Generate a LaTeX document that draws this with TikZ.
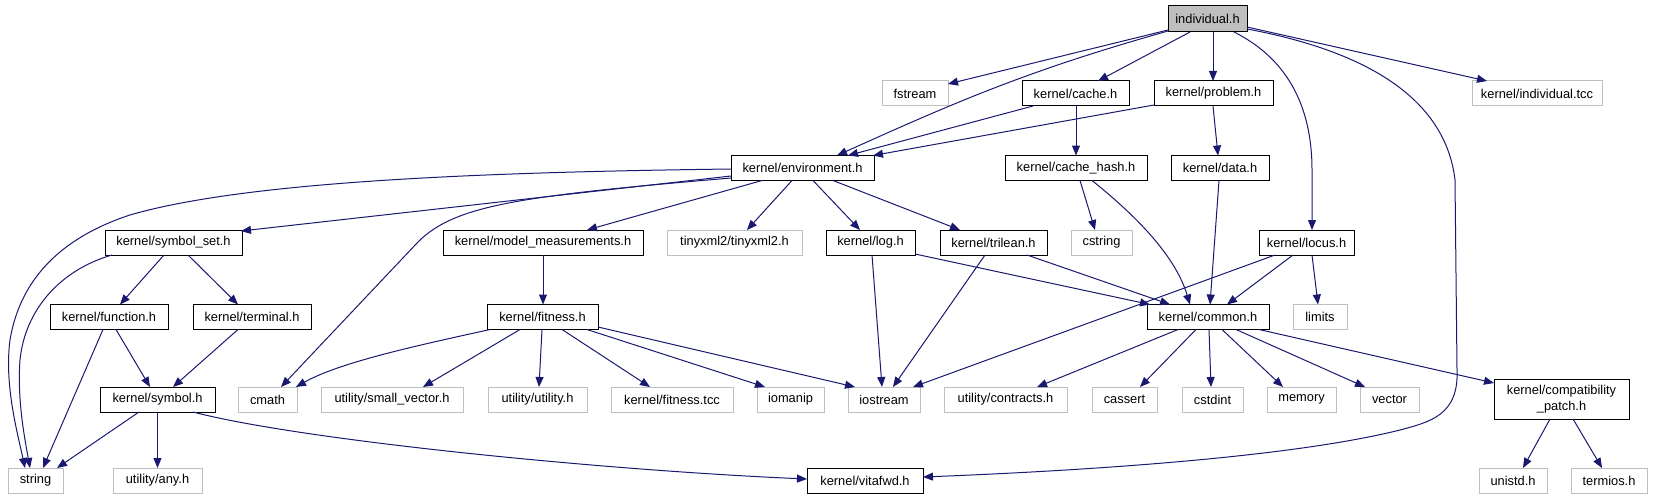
\documentclass[tikz,border=0pt]{standalone}
\usepackage{fontspec}
\setmainfont{Liberation Sans}
\usetikzlibrary{arrows.meta,calc}
\definecolor{mblue}{HTML}{191970}
\definecolor{gborder}{HTML}{BFBFBF}
\begin{document}
\begin{tikzpicture}[x=1pt,y=-1pt,
  box/.style={draw=black, fill=white, line width=1pt, inner sep=0pt, minimum height=25pt, font=\fontsize{12.85}{16}\selectfont},
  gbox/.style={box, draw=gborder},
  rootbox/.style={box, fill=gborder, minimum height=26pt},
  e/.style={draw=mblue, line width=1pt, -{Triangle[length=10pt,width=8pt]}}]
\useasboundingbox (0,0) rectangle (1653,500);
% row 1
\node[rootbox, minimum width=79pt] (ind) at (1207.5,19) {individual.h};
% row 2
\node[gbox, minimum width=66pt] (fstream) at (915,93.5) {fstream};
\node[box, minimum width=107pt] (cache) at (1075.5,93.5) {kernel/cache.h};
\node[box, minimum width=119pt] (problem) at (1213.5,93.5) {kernel/problem.h};
\node[gbox, minimum width=130pt] (itcc) at (1537,93.5) {kernel/individual.tcc};
% row 3
\node[box, minimum width=143pt] (env) at (802.5,168) {kernel/environment.h};
\node[box, minimum width=142pt] (chash) at (1076,168) {kernel/cache\_hash.h};
\node[box, minimum width=98pt] (data) at (1220,168) {kernel/data.h};
% row 4
\node[box, minimum width=137pt] (symset) at (173.5,242.5) {kernel/symbol\_set.h};
\node[box, minimum width=200pt] (mm) at (543,242.5) {kernel/model\_measurements.h};
\node[gbox, minimum width=135pt] (tiny) at (734.5,242.5) {tinyxml2/tinyxml2.h};
\node[box, minimum width=89pt] (log) at (870.5,242.5) {kernel/log.h};
\node[box, minimum width=107pt] (tri) at (993.5,242.5) {kernel/trilean.h};
\node[gbox, minimum width=61pt] (cstring) at (1101.5,242.5) {cstring};
\node[box, minimum width=95pt] (locus) at (1306.5,242.5) {kernel/locus.h};
% row 5
\node[box, minimum width=118pt] (func) at (109,317) {kernel/function.h};
\node[box, minimum width=118pt] (term) at (252,317) {kernel/terminal.h};
\node[box, minimum width=111pt] (fit) at (542.5,317) {kernel/fitness.h};
\node[box, minimum width=122pt] (common) at (1208,317) {kernel/common.h};
\node[gbox, minimum width=54pt] (limits) at (1320,317) {limits};
% row 6
\node[box, minimum width=115pt] (symbol) at (157.5,399.5) {kernel/symbol.h};
\node[gbox, minimum width=59pt] (cmath) at (267.5,399.5) {cmath};
\node[gbox, minimum width=142pt] (smallvec) at (392,399.5) {utility/small\_vector.h};
\node[gbox, minimum width=99pt] (utilh) at (537.5,399.5) {utility/utility.h};
\node[gbox, minimum width=122pt] (ftcc) at (672,399.5) {kernel/fitness.tcc};
\node[gbox, minimum width=67pt] (iomanip) at (790.5,399.5) {iomanip};
\node[gbox, minimum width=72pt] (iostream) at (884,399.5) {iostream};
\node[gbox, minimum width=123pt] (contracts) at (1005.5,399.5) {utility/contracts.h};
\node[gbox, minimum width=65pt] (cassert) at (1124.5,399.5) {cassert};
\node[gbox, minimum width=61pt] (cstdint) at (1212.5,399.5) {cstdint};
\node[gbox, minimum width=69pt] (memory) at (1301.5,399.5) {memory};
\node[gbox, minimum width=59pt] (vector) at (1389.5,399.5) {vector};
\node[box, minimum width=135pt, minimum height=40pt, align=center] (compat) at (1561.5,399) {kernel/compatibility\\\_patch.h};
% row 7
\node[gbox, minimum width=55pt] (string) at (35.5,480.5) {string};
\node[gbox, minimum width=89pt] (any) at (157.5,480.5) {utility/any.h};
\node[box, minimum width=116pt] (vitafwd) at (865,480.5) {kernel/vitafwd.h};
\node[gbox, minimum width=68pt] (unistd) at (1513,480.5) {unistd.h};
\node[gbox, minimum width=76pt] (termios) at (1609,480.5) {termios.h};

% edges from individual.h
\draw[e] ($(ind)+(-39.5,11)$) -- ($(fstream)+(33,-9.5)$);
\draw[e] ($(ind)+(-39.5,12)$) .. controls (1030,70) and (960,100) .. ($(env)+(34.5,-12.5)$);
\draw[e] ($(ind)+(-17.5,13)$) -- ($(cache)+(22.5,-12.5)$);
\draw[e] ($(ind)+(5.5,13)$) -- ($(problem)+(-0.5,-12.5)$);
\draw[e] ($(ind)+(26.5,13)$) .. controls (1290,60) and (1312,110) .. (1312,170) -- ($(locus)+(5.5,-12.5)$);
\draw[e] ($(ind)+(39.5,8)$) -- ($(itcc)+(-50,-12.5)$);
\draw[e] ($(ind)+(39.5,10)$) .. controls (1360,50) and (1445,95) .. (1455,180) -- (1457,370)
   .. controls (1459,415) and (1430,422) .. (1400,430) .. controls (1280,460) and (1050,472) .. ($(vitafwd)+(58,-3.5)$);
% cache, problem
\draw[e] ($(cache)+(-42.5,12.5)$) -- ($(env)+(45.5,-12.5)$);
\draw[e] ($(cache)+(0.5,12.5)$) -- ($(chash)+(0,-12.5)$);
\draw[e] ($(problem)+(-59.5,11.5)$) -- ($(env)+(70.5,-12.5)$);
\draw[e] ($(problem)+(-0.5,12.5)$) -- ($(data)+(-2,-12.5)$);
% cache_hash, data
\draw[e] ($(chash)+(4,12.5)$) -- ($(cstring)+(-6.5,-12.5)$);
\draw[e] ($(chash)+(16,12.5)$) .. controls (1135,215) and (1175,255) .. ($(common)+(-18,-12.5)$);
\draw[e] ($(data)+(-1,12.5)$) -- ($(common)+(2,-12.5)$);
% environment
\draw[e] ($(env)+(-71.5,1)$) .. controls (500,172) and (250,180) .. (130,215)
   .. controls (60,238) and (20,280) .. (10,340) .. controls (4,385) and (18,435) .. ($(string)+(-10.5,-12.5)$);
\draw[e] ($(env)+(-71.5,8)$) -- ($(symset)+(67.5,-11.5)$);
\draw[e] ($(env)+(-71.5,10)$) .. controls (520,196) and (455,205) .. (418,242) -- ($(cmath)+(13.5,-12.5)$);
\draw[e] ($(env)+(-40.5,12.5)$) -- ($(mm)+(44,-12.5)$);
\draw[e] ($(env)+(-10.5,12.5)$) -- ($(tiny)+(12.5,-12.5)$);
\draw[e] ($(env)+(10.5,12.5)$) -- ($(log)+(-10.5,-12.5)$);
\draw[e] ($(env)+(30.5,12.5)$) -- ($(tri)+(-33.5,-12.5)$);
% symbol_set
\draw[e] ($(symset)+(-61.5,12.5)$) .. controls (60,270) and (25,310) .. (20,360) .. controls (17,400) and (25,440) .. ($(string)+(-5.5,-12.5)$);
\draw[e] ($(symset)+(-9.5,12.5)$) -- ($(func)+(11,-12.5)$);
\draw[e] ($(symset)+(14.5,12.5)$) -- ($(term)+(-14,-12.5)$);
% function, terminal, symbol
\draw[e] ($(func)+(-6,12.5)$) -- ($(string)+(7.5,-12.5)$);
\draw[e] ($(func)+(7,12.5)$) -- ($(symbol)+(-7.5,-12.5)$);
\draw[e] ($(term)+(-14,12.5)$) -- ($(symbol)+(15.5,-12.5)$);
\draw[e] ($(symbol)+(-18.5,12.5)$) -- ($(string)+(21.5,-12.5)$);
\draw[e] ($(symbol)+(0,12.5)$) -- ($(any)+(0,-12.5)$);
\draw[e] ($(symbol)+(35.5,12.5)$) .. controls (300,440) and (600,470) .. ($(vitafwd)+(-58,-1.5)$);
% model_measurements, fitness
\draw[e] ($(mm)+(0,12.5)$) -- ($(fit)+(0.5,-12.5)$);
\draw[e] ($(fit)+(-52.5,12.5)$) .. controls (420,345) and (340,362) .. ($(cmath)+(28.5,-12.5)$);
\draw[e] ($(fit)+(-22.5,12.5)$) -- ($(smallvec)+(31,-12.5)$);
\draw[e] ($(fit)+(-0.5,12.5)$) -- ($(utilh)+(1.5,-12.5)$);
\draw[e] ($(fit)+(19.5,12.5)$) -- ($(ftcc)+(-22,-12.5)$);
\draw[e] ($(fit)+(44.5,12.5)$) -- ($(iomanip)+(-25.5,-12.5)$);
\draw[e] ($(fit)+(55.5,10)$) -- ($(iostream)+(-29,-12.5)$);
% log, trilean, locus
\draw[e] ($(log)+(1.5,12.5)$) -- ($(iostream)+(-2,-12.5)$);
\draw[e] ($(log)+(44.5,11.5)$) -- ($(common)+(-58,-12.5)$);
\draw[e] ($(tri)+(33.5,12.5)$) -- ($(common)+(-38,-12.5)$);
\draw[e] ($(tri)+(-8.5,12.5)$) -- ($(iostream)+(9,-12.5)$);
\draw[e] ($(locus)+(-31.5,12.5)$) -- ($(iostream)+(29,-12.5)$);
\draw[e] ($(locus)+(-13.5,12.5)$) -- ($(common)+(19,-12.5)$);
\draw[e] ($(locus)+(5.5,12.5)$) -- ($(limits)+(-2,-12.5)$);
% common
\draw[e] ($(common)+(-30,12.5)$) -- ($(contracts)+(31.5,-12.5)$);
\draw[e] ($(common)+(-12,12.5)$) -- ($(cassert)+(15.5,-12.5)$);
\draw[e] ($(common)+(1,12.5)$) -- ($(cstdint)+(-1.5,-12.5)$);
\draw[e] ($(common)+(14,12.5)$) -- ($(memory)+(-18.5,-12.5)$);
\draw[e] ($(common)+(28,12.5)$) -- ($(vector)+(-24.5,-12.5)$);
\draw[e] ($(common)+(51,12.5)$) -- ($(compat)+(-67.5,-16)$);
% compatibility_patch
\draw[e] ($(compat)+(-11.5,20)$) -- ($(unistd)+(10,-12.5)$);
\draw[e] ($(compat)+(11.5,20)$) -- ($(termios)+(-7,-12.5)$);
\end{tikzpicture}
\end{document}
